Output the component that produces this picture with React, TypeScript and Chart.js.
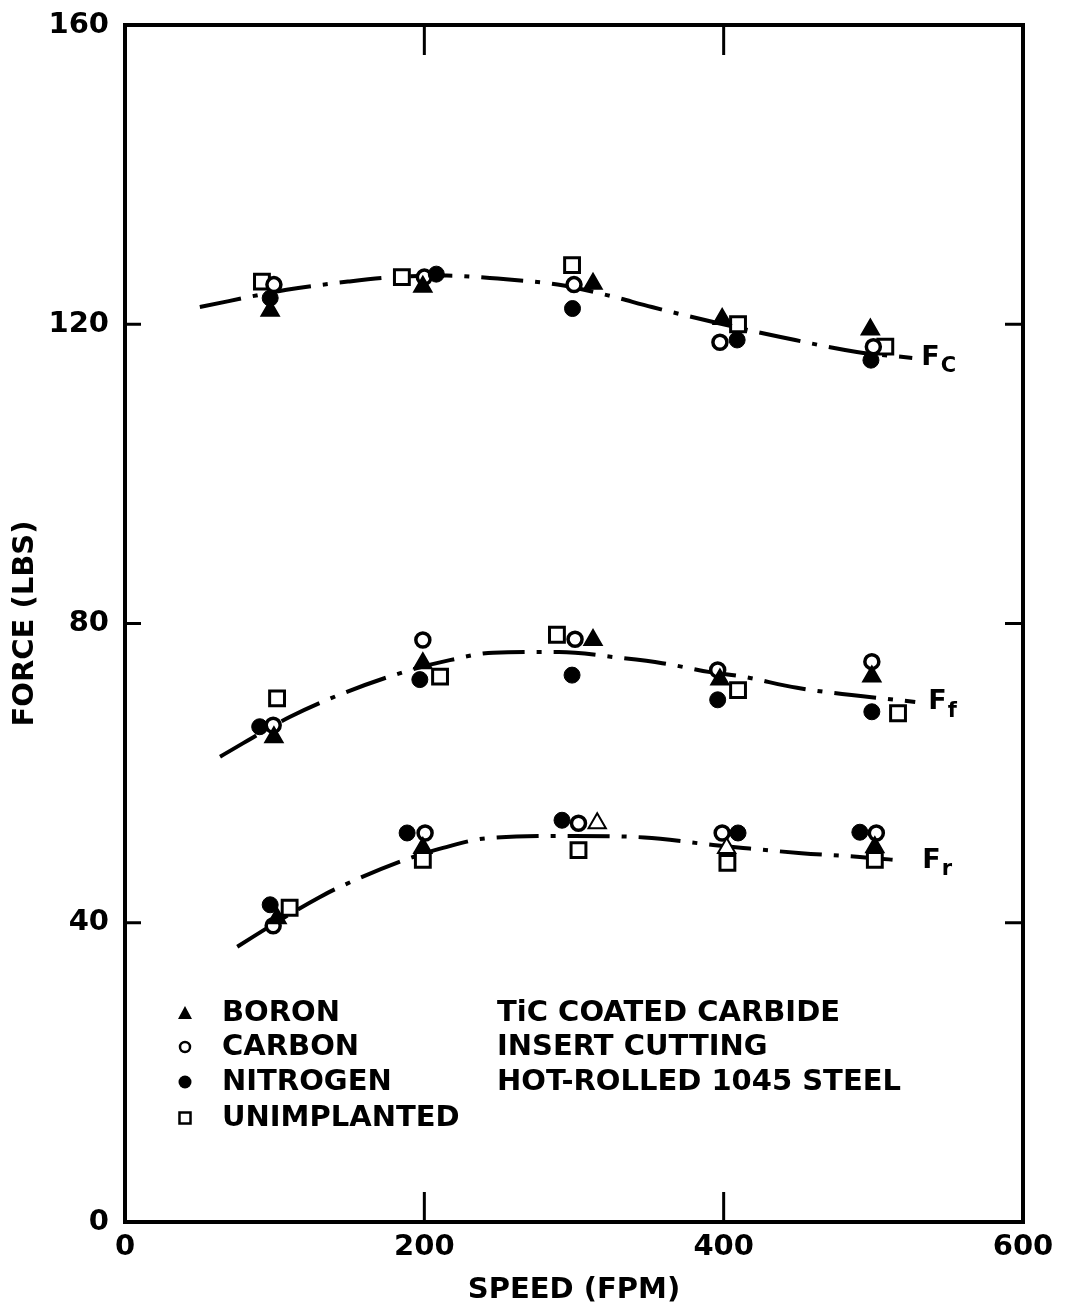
import React, { useEffect, useRef } from "react";
import { Chart, registerables } from "chart.js";

Chart.register(...registerables);

// ---- DATA ----
const xTicks = [0, 200, 400, 600];
const yTicks = [0, 40, 80, 120, 160];
const xInnerTicks = [200, 400];
const yInnerTicks = [40, 80, 120];

// Boron (filled triangles)
const boronFc = [[97, 121.8], [199, 125.0], [312.7, 125.4], [399, 120.7], [498, 119.3]];
const boronFf = [[99.5, 64.8], [199, 74.7], [312.7, 77.8], [397.5, 72.5], [499, 72.9]];
const boronFr = [[101.6, 40.6], [199, 50.0], [315.5, 53.3], [402, 50.0], [501, 50.1]];
const boronFrHollow = [false, false, true, true, false];

// Carbon (open circles)
const carbonFc = [[99.5, 125.3], [200, 126.3], [300, 125.3], [397.5, 117.6], [500, 117.0]];
const carbonFf = [[99, 66.4], [199, 77.8], [300.7, 77.9], [396, 73.8], [499, 74.9]];
const carbonFr = [[99, 39.6], [200.5, 52.0], [303, 53.3], [399, 52.0], [502, 52.0]];

// Nitrogen (filled circles)
const nitrogenFc = [[97, 123.5], [208, 126.7], [299, 122.1], [409, 117.9], [498.4, 115.2]];
const nitrogenFf = [[90, 66.2], [197, 72.5], [298.7, 73.1], [396, 69.8], [499, 68.2]];
const nitrogenFr = [[97, 42.4], [188.5, 52.0], [292, 53.7], [409.6, 52.0], [491, 52.1]];

// Unimplanted (open squares)
const unimpFc = [[91.5, 125.7], [185, 126.3], [298.7, 127.9], [409.6, 120.0], [508, 117.0]];
const unimpFf = [[101.6, 70.0], [210.5, 72.9], [288.6, 78.5], [409.6, 71.1], [516.5, 68.0]];
const unimpFr = [[110, 42.0], [199, 48.4], [303, 49.7], [402.5, 48.0], [501, 48.4]];

// Fitted curves (dash-dot)
const curveFc = [[50, 122.3], [108, 124.6], [149, 125.7], [179, 126.3], [215, 126.5], [249, 126.1], [289, 125.3], [322, 123.9], [352, 122.3], [393, 120.3], [438, 118.3], [489, 116.3], [526, 115.5]];
const curveFf = [[63.5, 62.2], [110, 67.5], [143.6, 70.5], [186, 73.5], [217, 75.1], [246, 76.1], [290, 76.2], [331, 75.4], [359, 74.7], [391, 73.5], [413, 72.9], [449, 71.4], [528, 69.5]];
const curveFr = [[75, 36.8], [105.6, 40.6], [130, 43.4], [141.6, 44.6], [187, 48.4], [212.5, 50.0], [242, 51.3], [300, 51.6], [347, 51.4], [393, 50.4], [413, 50.0], [452, 49.3], [491, 48.8], [520, 48.3]];

const curveNames = ["C", "f", "r"];
const legendNames = ["BORON", "CARBON", "NITROGEN", "UNIMPLANTED"];
const noteLines = ["TiC COATED CARBIDE", "INSERT CUTTING", "HOT-ROLLED 1045 STEEL"];
const xTitle = "SPEED (FPM)";
const yTitle = "FORCE (LBS)";

const FONT = "'DejaVu Sans', 'Liberation Sans', sans-serif";

const toXY = (arr: number[][]) => arr.map(([x, y]) => ({ x, y }));

const decorPlugin = {
  id: "decor",
  afterDraw(chart: any) {
    const { ctx, chartArea: a, scales } = chart;
    const xs = scales.x;
    const ys = scales.y;
    ctx.save();
    ctx.strokeStyle = "#000";
    ctx.fillStyle = "#000";
    ctx.lineWidth = 4;
    ctx.lineJoin = "miter";
    ctx.strokeRect(a.left, a.top, a.right - a.left, a.bottom - a.top);

    const line = (x1: number, y1: number, x2: number, y2: number) => {
      ctx.beginPath();
      ctx.moveTo(x1, y1);
      ctx.lineTo(x2, y2);
      ctx.stroke();
    };
    ctx.lineWidth = 3;
    for (const v of xInnerTicks) {
      const px = xs.getPixelForValue(v);
      line(px, a.bottom, px, a.bottom - 30);
      line(px, a.top, px, a.top + 30);
    }
    for (const v of yInnerTicks) {
      const py = ys.getPixelForValue(v);
      line(a.left, py, a.left + 16, py);
      line(a.right, py, a.right - 18, py);
    }

    // curve labels F_c, F_f, F_r
    const curves = [curveFc, curveFf, curveFr];
    const gaps = [9, 13, 19];
    curves.forEach((c, i) => {
      const last = c[c.length - 1];
      const px = xs.getPixelForValue(last[0]) + gaps[i];
      const py = ys.getPixelForValue(last[1]);
      ctx.textAlign = "left";
      ctx.textBaseline = "middle";
      ctx.font = `bold 27px ${FONT}`;
      ctx.fillText("F", px, py);
      const w = ctx.measureText("F").width;
      ctx.font = `bold 21px ${FONT}`;
      ctx.fillText(curveNames[i], px + w + 1, py + 9);
    });

    // legend
    const lx = 185;
    const tx = 222;
    const rows = [1013, 1047, 1082, 1118];
    ctx.lineWidth = 2.5;
    ctx.beginPath();
    ctx.moveTo(lx, rows[0] - 7);
    ctx.lineTo(lx + 7, rows[0] + 6);
    ctx.lineTo(lx - 7, rows[0] + 6);
    ctx.closePath();
    ctx.fill();
    ctx.beginPath();
    ctx.arc(lx, rows[1], 5, 0, Math.PI * 2);
    ctx.fillStyle = "#fff";
    ctx.fill();
    ctx.stroke();
    ctx.fillStyle = "#000";
    ctx.beginPath();
    ctx.arc(lx, rows[2], 6.5, 0, Math.PI * 2);
    ctx.fill();
    ctx.strokeRect(lx - 5.5, rows[3] - 5.5, 11, 11);

    ctx.font = `bold 29px ${FONT}`;
    ctx.textAlign = "left";
    ctx.textBaseline = "middle";
    legendNames.forEach((t, i) => ctx.fillText(t, tx, rows[i]));
    noteLines.forEach((t, i) => ctx.fillText(t, 497, rows[i]));
    ctx.restore();
  },
};

export default function App() {
  const ref = useRef<HTMLCanvasElement | null>(null);

  useEffect(() => {
    if (!ref.current) return;
    document.body.style.margin = "0";
    Chart.defaults.font.family = FONT;
    Chart.defaults.color = "#000";

    const boronColors = [
      ...boronFc.map(() => "#000"),
      ...boronFf.map(() => "#000"),
      ...boronFrHollow.map((h) => (h ? "#fff" : "#000")),
    ];

    const curveStyle = {
      showLine: true,
      pointRadius: 0,
      borderColor: "#000",
      borderWidth: 4,
      borderDash: [42, 12, 5, 12],
      tension: 0.4,
      cubicInterpolationMode: "monotone" as const,
      fill: false,
    };

    const tickFont = { size: 29, family: FONT, weight: "bold" as const };

    const chart = new Chart(ref.current, {
      type: "scatter",
      data: {
        datasets: [
          {
            label: "BORON",
            data: toXY([...boronFc, ...boronFf, ...boronFr]),
            pointStyle: "triangle",
            pointRadius: 10,
            pointBackgroundColor: boronColors,
            pointBorderColor: "#000",
            pointBorderWidth: 2,
            order: 0,
          },
          {
            label: "NITROGEN",
            data: toXY([...nitrogenFc, ...nitrogenFf, ...nitrogenFr]),
            pointStyle: "circle",
            pointRadius: 8,
            pointBackgroundColor: "#000",
            pointBorderColor: "#000",
            pointBorderWidth: 1,
            order: 1,
          },
          {
            label: "CARBON",
            data: toXY([...carbonFc, ...carbonFf, ...carbonFr]),
            pointStyle: "circle",
            pointRadius: 7,
            pointBackgroundColor: "#fff",
            pointBorderColor: "#000",
            pointBorderWidth: 3.5,
            order: 2,
          },
          {
            label: "UNIMPLANTED",
            data: toXY([...unimpFc, ...unimpFf, ...unimpFr]),
            pointStyle: "rect",
            pointRadius: 10.5,
            pointBackgroundColor: "#fff",
            pointBorderColor: "#000",
            pointBorderWidth: 3,
            order: 3,
          },
          { label: "Fc", data: toXY(curveFc), ...curveStyle, order: 10 },
          { label: "Ff", data: toXY(curveFf), ...curveStyle, order: 11 },
          { label: "Fr", data: toXY(curveFr), ...curveStyle, order: 12 },
        ] as any,
      },
      options: {
        responsive: false,
        animation: false,
        events: [],
        layout: { padding: { top: 25, right: 46, left: 0, bottom: 0 } },
        plugins: {
          legend: { display: false },
          tooltip: { enabled: false },
          title: { display: false },
        },
        scales: {
          x: {
            type: "linear",
            min: 0,
            max: 600,
            afterBuildTicks: (s: any) => {
              s.ticks = xTicks.map((v) => ({ value: v }));
            },
            ticks: {
              font: tickFont,
              color: "#000",
              padding: 8,
              maxRotation: 0,
            },
            grid: { display: false, drawTicks: false },
            border: { display: false },
            title: {
              display: true,
              text: xTitle,
              font: tickFont,
              color: "#000",
              padding: { top: 0, bottom: 0 },
            },
            afterFit: (s: any) => {
              s.height = 86;
              s.paddingLeft = 0;
              s.paddingRight = 0;
            },
          },
          y: {
            type: "linear",
            min: 0,
            max: 160,
            afterBuildTicks: (s: any) => {
              s.ticks = yTicks.map((v) => ({ value: v }));
            },
            ticks: {
              font: tickFont,
              color: "#000",
              padding: 16,
            },
            grid: { display: false, drawTicks: false },
            border: { display: false },
            title: {
              display: true,
              text: yTitle,
              font: tickFont,
              color: "#000",
              padding: { top: 8, bottom: 0 },
            },
            afterFit: (s: any) => {
              s.width = 125;
              s.paddingTop = 0;
              s.paddingBottom = 0;
            },
          },
        },
      },
      plugins: [decorPlugin],
    });
    return () => chart.destroy();
  }, []);

  return (
    <div style={{ position: "absolute", left: 0, top: 0, width: 1069, height: 1308, background: "#fff" }}>
      <canvas ref={ref} width={1069} height={1308} style={{ width: 1069, height: 1308 }} />
    </div>
  );
}
